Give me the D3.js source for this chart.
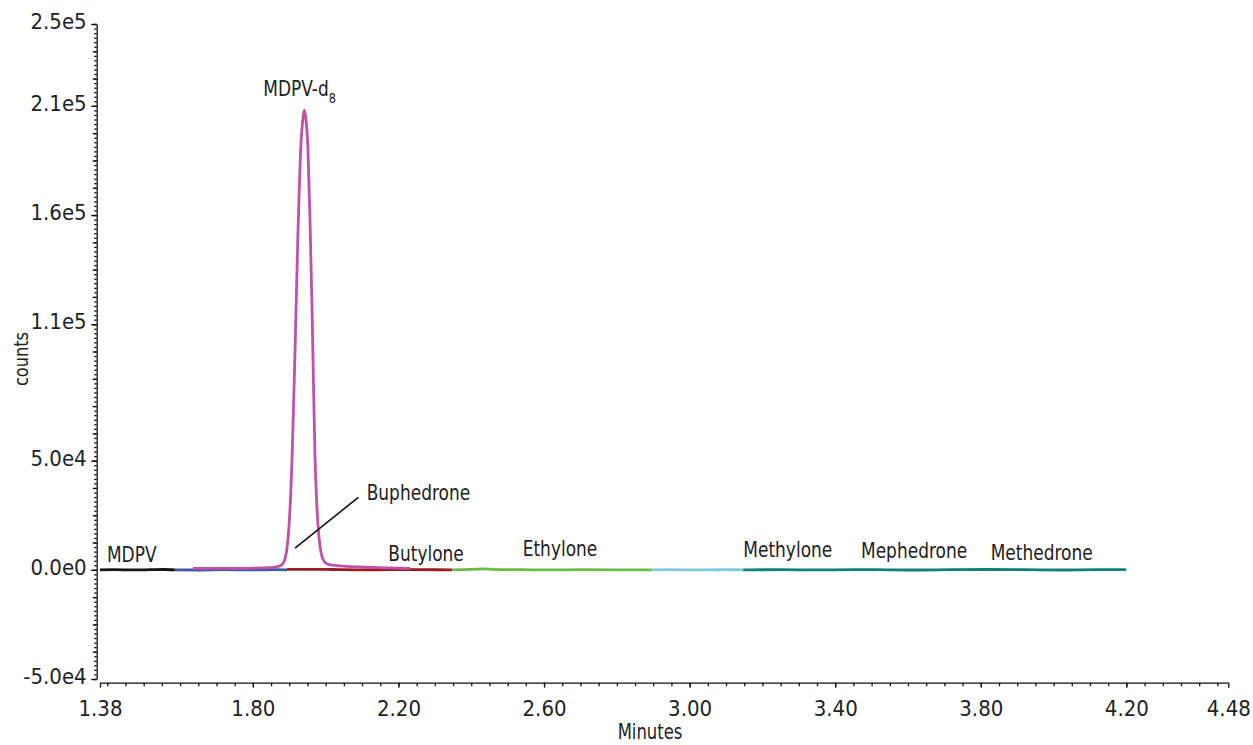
<!DOCTYPE html>
<meta charset="utf-8">
<html>
<head>
<title>Cathinones chromatogram</title>
<script src="https://d3js.org/d3.v7.min.js"></script>
<style>
  body { margin: 0; background: #fff; }
  text { font-family: "Liberation Sans Narrow", "DejaVu Sans Condensed", "Liberation Sans", sans-serif; fill: #222; }
</style>
</head>
<body>
<script>
// ---- data (minutes, counts) ----
var mdpvTime   = [1.38, 1.42, 1.47, 1.52, 1.556, 1.586];
var mdpvCounts = [0, 80, -50, 80, 150, 0];

var blueTime   = [1.586, 1.65, 1.72, 1.80, 1.86, 1.894];
var blueCounts = [0, -80, 50, -50, 80, 0];

var redTime    = [1.894, 1.95, 2.02, 2.10, 2.18, 2.26, 2.347];
var redCounts  = [200, 250, 150, -50, 100, 50, 0];

var greenTime   = [2.347, 2.40, 2.43, 2.46, 2.52, 2.60, 2.70, 2.80, 2.896];
var greenCounts = [0, 200, 450, 250, 80, -50, 50, 0, 0];

var ltblueTime   = [2.896, 2.95, 3.02, 3.09, 3.147];
var ltblueCounts = [0, 80, -50, 50, 0];

var tealTime   = [3.147, 3.25, 3.35, 3.45, 3.55, 3.62, 3.72, 3.82, 3.92, 4.02, 4.12, 4.199];
var tealCounts = [0, 80, -50, 100, 0, -80, 80, 150, 50, -80, 100, 50];

var d8Time   = [1.6355, 1.7646, 1.8471, 1.8745, 1.8828, 1.8883, 1.8938, 1.8993, 1.9075, 1.9158,
                1.9240, 1.9322, 1.9377, 1.9413, 1.9460, 1.9515, 1.9570, 1.9625, 1.9666, 1.9707,
                1.9762, 1.9817, 1.9872, 1.9954, 2.0064, 2.0394, 2.0943, 2.1768, 2.2317];
var d8Counts = [600, 700, 1000, 1800, 3000, 5000, 10000, 20000, 50000, 100000,
                155000, 195000, 207000, 210500, 206000, 192000, 160000, 120000, 85000, 52000,
                28000, 15000, 8000, 4000, 2500, 1800, 1300, 900, 600];

// tick values and their printed labels
var xTickValues = [1.38, 1.80, 2.20, 2.60, 3.00, 3.40, 3.80, 4.20, 4.48];
var xTickLabels = ["1.38", "1.80", "2.20", "2.60", "3.00", "3.40", "3.80", "4.20", "4.48"];
var yTickValues = [-50000, 0, 50000, 112500, 162500, 212500, 250000];
var yTickLabels = ["-5.0e4", "0.0e0", "5.0e4", "1.1e5", "1.6e5", "2.1e5", "2.5e5"];

// peak labels (minutes, counts at text baseline)
var labelNames  = ["MDPV", "MDPV-d", "Buphedrone", "Butylone", "Ethylone", "Methylone", "Mephedrone", "Methedrone"];
var labelTime   = [1.399, 1.8287, 2.1127, 2.1721, 2.5414, 3.1475, 3.4708, 3.8272];
var labelCounts = [3400, 217000, 32000, 4000, 6300, 5700, 5300, 4500];
var leaderTime   = [1.9158, 2.0897];
var leaderCounts = [9900, 33200];

var width = 1253, height = 745;
var squeeze = 0.9;   // horizontal condensing of the label font

var svg = d3.select("body").append("svg")
  .attr("width", width)
  .attr("height", height);

var x = d3.scaleLinear().domain([1.38, 4.48]).range([100, 1228.3]);
var y = d3.scaleLinear().domain([-50000, 250000]).range([679, 24]);

// x axis: minor every 0.05 min, labelled majors
var xMinor = d3.range(1.40, 4.46, 0.05);
svg.append("g")
  .attr("transform", "translate(0,682.7)")
  .call(d3.axisBottom(x).tickValues(xMinor).tickSize(3.5).tickFormat(""))
  .call(function(g) { g.select(".domain").remove(); });
var xAxis = svg.append("g")
  .attr("transform", "translate(0,682.7)")
  .call(d3.axisBottom(x).tickValues(xTickValues).tickSize(5).tickSizeOuter(0)
    .tickFormat(function(d, i) { return xTickLabels[i]; }));
xAxis.selectAll("text").attr("font-size", 22).attr("dy", 0).attr("y", 33);

// y axis: minor / medium / labelled majors
var yMinor = d3.range(-50000, 250001, 12500 / 6);
var yMedium = d3.range(-50000, 250001, 12500);
svg.append("g")
  .attr("transform", "translate(96.7,0)")
  .call(d3.axisLeft(y).tickValues(yMinor).tickSize(2.5).tickFormat(""))
  .call(function(g) { g.select(".domain").remove(); });
svg.append("g")
  .attr("transform", "translate(96.7,0)")
  .call(d3.axisLeft(y).tickValues(yMedium).tickSize(4).tickFormat(""))
  .call(function(g) { g.select(".domain").remove(); });
var yAxis = svg.append("g")
  .attr("transform", "translate(96.7,0)")
  .call(d3.axisLeft(y).tickValues(yTickValues).tickSize(5.5).tickSizeOuter(0)
    .tickFormat(function(d, i) { return yTickLabels[i]; }));
yAxis.selectAll("text").attr("font-size", 22).attr("x", -10).attr("dy", "0.2em");

svg.selectAll(".domain, .tick line").attr("stroke", "#111").attr("stroke-width", 1.3);

// axis titles
svg.append("text")
  .attr("transform", "translate(650,739) scale(0.87,1)")
  .attr("text-anchor", "middle").attr("font-size", 21)
  .text("Minutes");
svg.append("text")
  .attr("transform", "translate(28,359) rotate(-90) scale(0.9,1)")
  .attr("text-anchor", "middle").attr("font-size", 20)
  .text("counts");

// traces
var series = [
  { t: mdpvTime,   c: mdpvCounts,   color: "#141414" },
  { t: blueTime,   c: blueCounts,   color: "#3b5ba9" },
  { t: redTime,    c: redCounts,    color: "#9b1b22" },
  { t: greenTime,  c: greenCounts,  color: "#6cbb44" },
  { t: ltblueTime, c: ltblueCounts, color: "#7ccbdf" },
  { t: tealTime,   c: tealCounts,   color: "#0f807b" },
  { t: d8Time,     c: d8Counts,     color: "#c150a7" }
];

var line = d3.line()
  .x(function(d) { return x(d[0]); })
  .y(function(d) { return y(d[1]); })
  .curve(d3.curveMonotoneX);

svg.append("g").selectAll("path")
  .data(series)
  .enter()
  .append("path")
  .attr("d", function(s) { return line(s.t.map(function(t, i) { return [t, s.c[i]]; })); })
  .attr("fill", "none")
  .attr("stroke", function(s) { return s.color; })
  .attr("stroke-width", 2.8)
  .attr("stroke-linejoin", "round");

// peak labels
var labels = svg.append("g").selectAll("text")
  .data(labelNames)
  .enter()
  .append("text")
  .attr("transform", function(d, i) {
    return "translate(" + x(labelTime[i]) + "," + y(labelCounts[i]) + ") scale(" + squeeze + ",1)";
  })
  .attr("font-size", 21)
  .text(function(d) { return d; });

// subscript 8 on MDPV-d8
labels.filter(function(d) { return d == "MDPV-d"; })
  .append("tspan")
  .attr("font-size", 14)
  .attr("dy", 7)
  .text("8");

// leader line to Buphedrone
svg.append("line")
  .attr("x1", x(leaderTime[0])).attr("y1", y(leaderCounts[0]))
  .attr("x2", x(leaderTime[1])).attr("y2", y(leaderCounts[1]))
  .attr("stroke", "#111")
  .attr("stroke-width", 1.6);
</script>
</body>
</html>
